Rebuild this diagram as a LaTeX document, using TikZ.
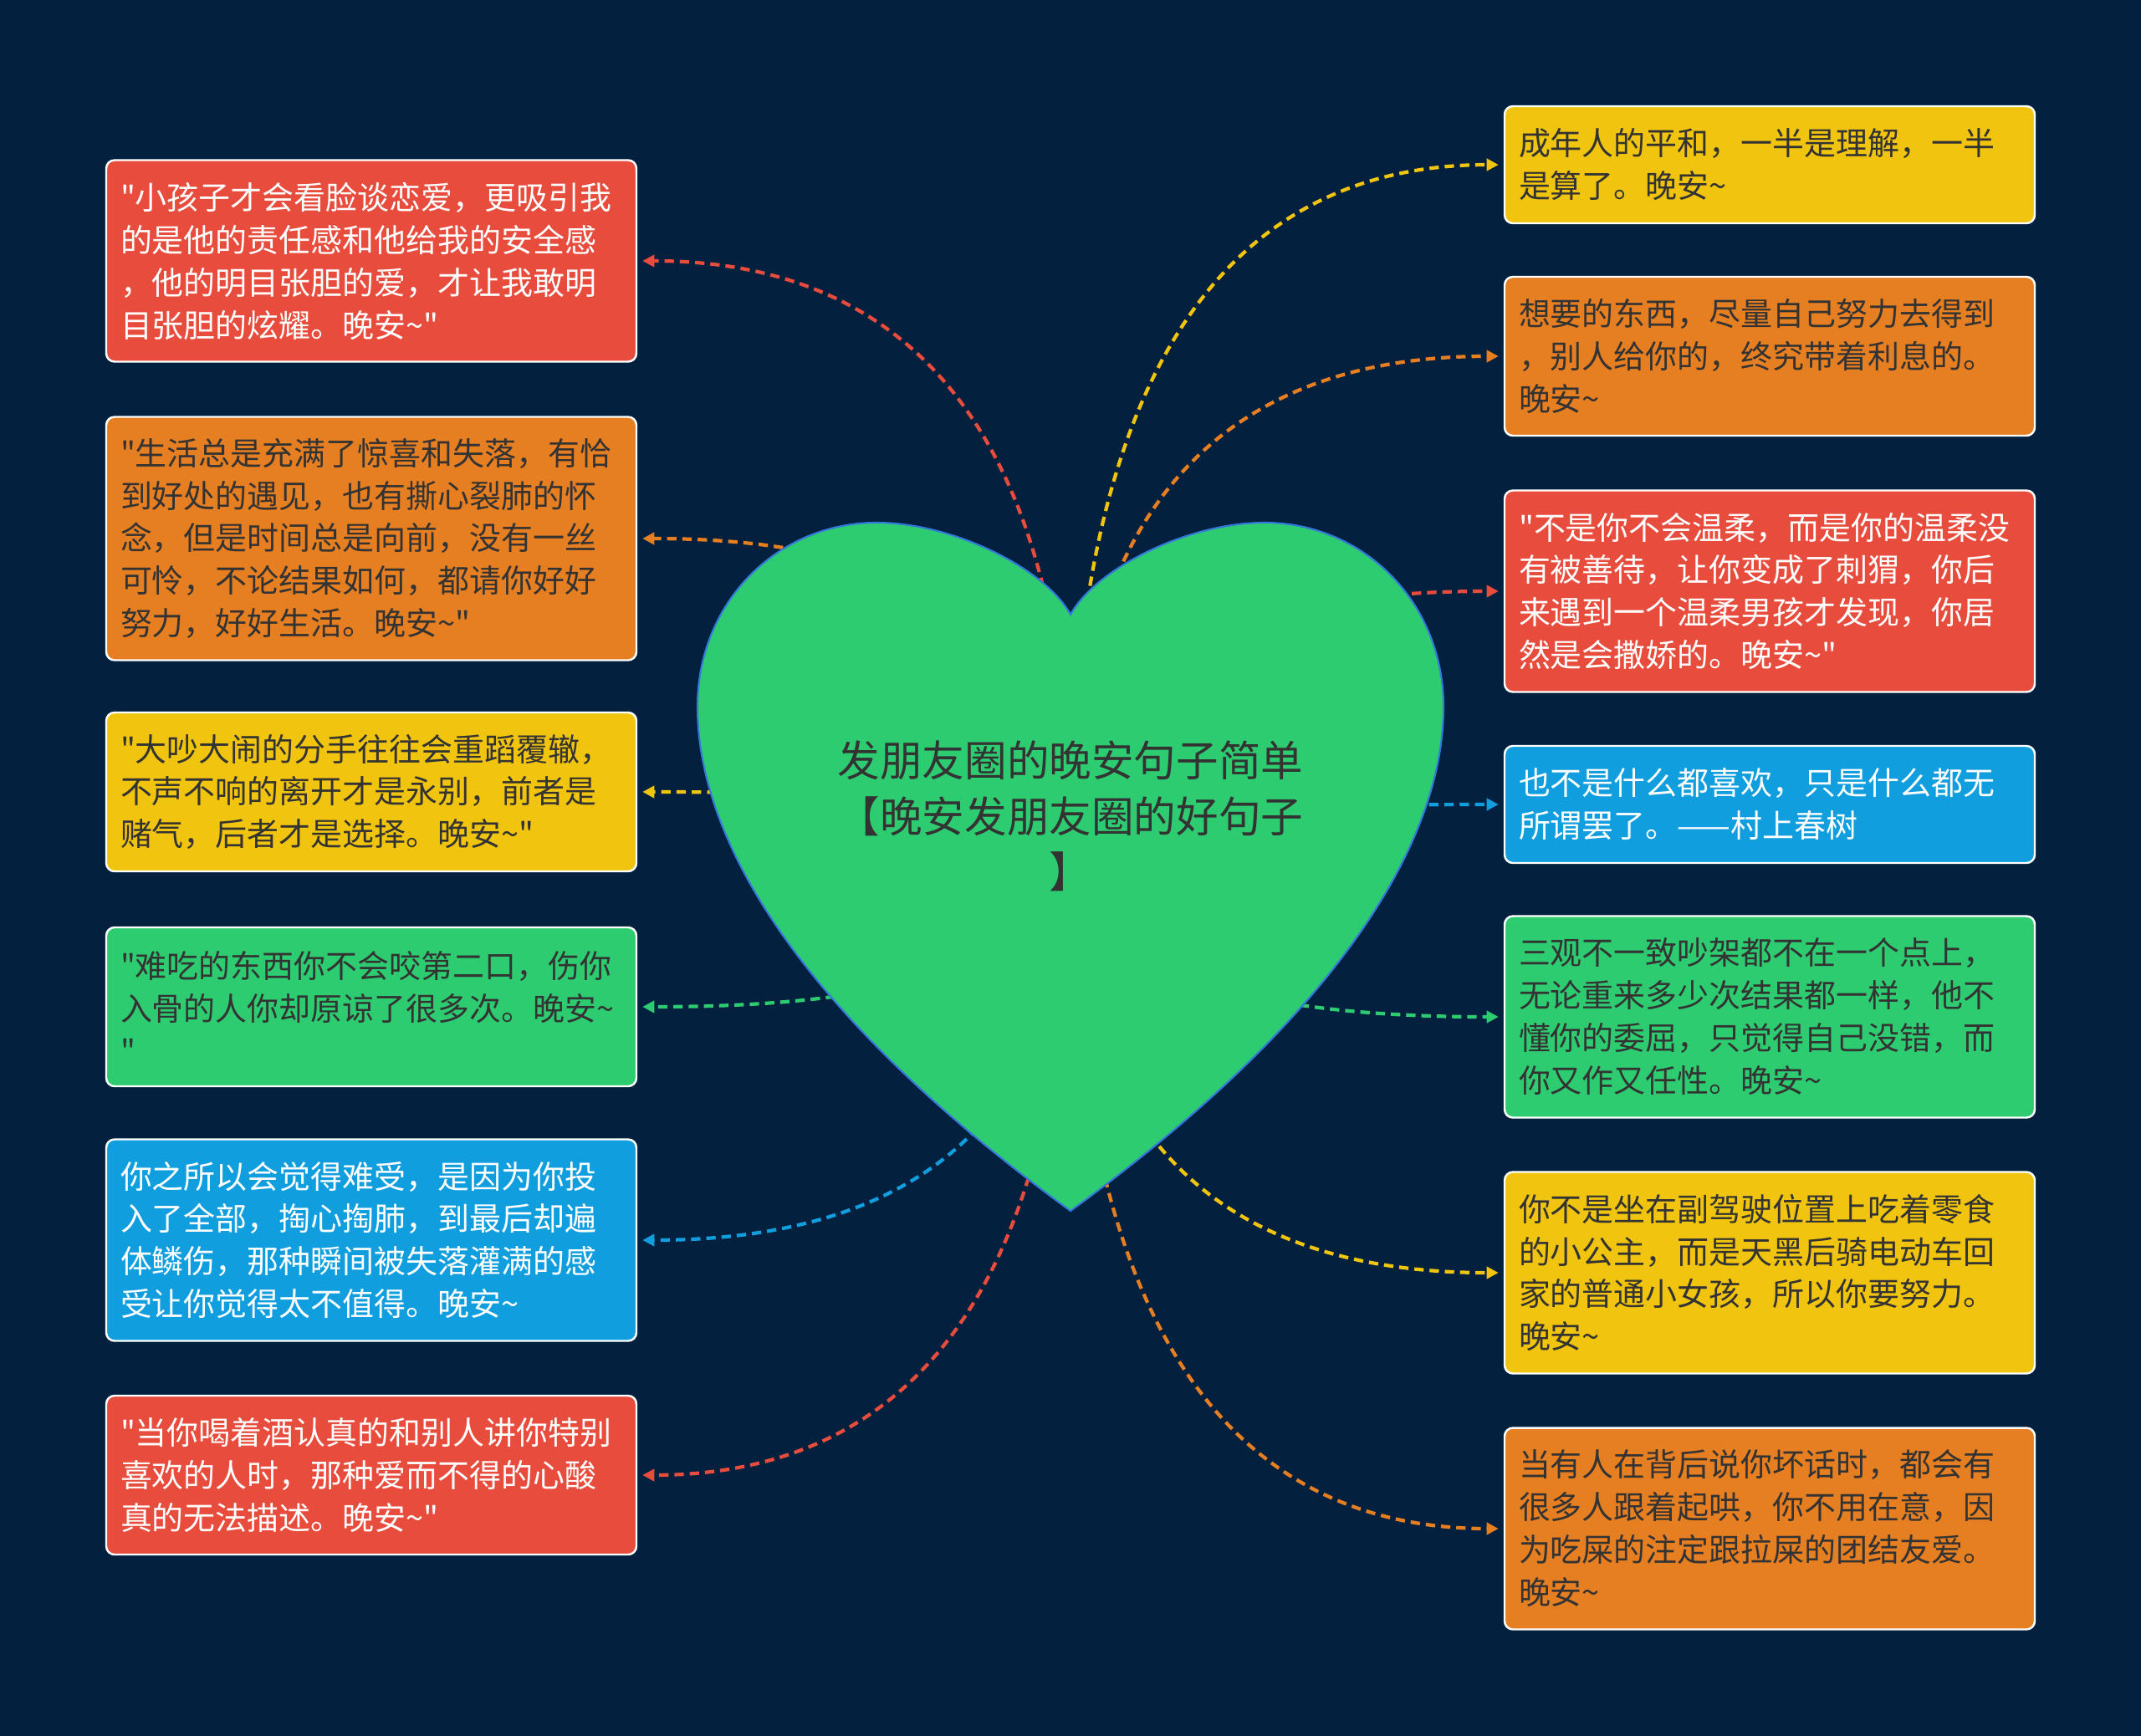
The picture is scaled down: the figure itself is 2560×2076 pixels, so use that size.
\documentclass[tikz,border=0pt]{standalone}
\usepackage{fontspec}
\usepackage{tikz}
\usetikzlibrary{calc,arrows.meta}
\newfontfamily\cjk{Noto Sans CJK SC}
\definecolor{bg}{RGB}{3,33,63}
\definecolor{cred}{RGB}{231,76,60}
\definecolor{corange}{RGB}{230,126,34}
\definecolor{cyellow}{RGB}{241,196,15}
\definecolor{cgreen}{RGB}{46,204,113}
\definecolor{cblue}{RGB}{17,158,223}
\definecolor{ink}{RGB}{51,51,51}
\definecolor{heartline}{RGB}{52,120,220}
\newcommand{\wanan}{晚安\textasciitilde}
\tikzset{
  card/.style={draw=white, line width=0.7pt, rounded corners=1mm, fill=#1,
    text width=60mm, inner xsep=1.7mm, inner ysep=0pt, align=left,
    font=\cjk\fontsize{10.8}{14.5}\selectfont},
  dark/.style={text=ink},
  light/.style={text=white},
  link/.style={draw=#1, line width=1.2pt, dash pattern=on 3.2pt off 2pt,
    -{Triangle[length=4pt,width=4pt]}, shorten >=0.6mm}
}
\begin{document}
\begin{tikzpicture}[x=0.1mm,y=-0.1mm]
  \fill[bg] (0,0) rectangle (2560,2076);
  % left side
  \node[card=cred,light,minimum height=24.1mm] (l1) at (444,312)
    {"小孩子才会看脸谈恋爱，更吸引我\\的是他的责任感和他给我的安全感\\，他的明目张胆的爱，才让我敢明\\目张胆的炫耀。\wanan"};
  \node[card=corange,dark,minimum height=29.1mm] (l2) at (444,644)
    {"生活总是充满了惊喜和失落，有恰\\到好处的遇见，也有撕心裂肺的怀\\念，但是时间总是向前，没有一丝\\可怜，不论结果如何，都请你好好\\努力，好好生活。\wanan"};
  \node[card=cyellow,dark,minimum height=19mm] (l3) at (444,947)
    {"大吵大闹的分手往往会重蹈覆辙，\\不声不响的离开才是永别，前者是\\赌气，后者才是选择。\wanan"};
  \node[card=cgreen,dark,minimum height=19mm] (l4) at (444,1204)
    {"难吃的东西你不会咬第二口，伤你\\入骨的人你却原谅了很多次。\wanan\\"};
  \node[card=cblue,light,minimum height=24.1mm] (l5) at (444,1483)
    {你之所以会觉得难受，是因为你投\\入了全部，掏心掏肺，到最后却遍\\体鳞伤，那种瞬间被失落灌满的感\\受让你觉得太不值得。\wanan};
  \node[card=cred,light,minimum height=19mm] (l6) at (444,1764)
    {"当你喝着酒认真的和别人讲你特别\\喜欢的人时，那种爱而不得的心酸\\真的无法描述。\wanan"};
  % right side
  \node[card=cyellow,dark,minimum height=14mm] (r1) at (2116,197)
    {成年人的平和，一半是理解，一半\\是算了。\wanan};
  \node[card=corange,dark,minimum height=19mm] (r2) at (2116,426)
    {想要的东西，尽量自己努力去得到\\，别人给你的，终究带着利息的。\\\wanan};
  \node[card=cred,light,minimum height=24.1mm] (r3) at (2116,707)
    {"不是你不会温柔，而是你的温柔没\\有被善待，让你变成了刺猬，你后\\来遇到一个温柔男孩才发现，你居\\然是会撒娇的。\wanan"};
  \node[card=cblue,light,minimum height=14mm] (r4) at (2116,962)
    {也不是什么都喜欢，只是什么都无\\所谓罢了。——村上春树};
  \node[card=cgreen,dark,minimum height=24.1mm] (r5) at (2116,1216)
    {三观不一致吵架都不在一个点上，\\无论重来多少次结果都一样，他不\\懂你的委屈，只觉得自己没错，而\\你又作又任性。\wanan};
  \node[card=cyellow,dark,minimum height=24.1mm] (r6) at (2116,1522)
    {你不是坐在副驾驶位置上吃着零食\\的小公主，而是天黑后骑电动车回\\家的普通小女孩，所以你要努力。\\\wanan};
  \node[card=corange,dark,minimum height=24.1mm] (r7) at (2116,1828)
    {当有人在背后说你坏话时，都会有\\很多人跟着起哄，你不用在意，因\\为吃屎的注定跟拉屎的团结友爱。\\\wanan};
  % links from the middle
  \coordinate (hub) at (1280,1010);
  \foreach \bx/\col/\side in {l1/cred/east,l2/corange/east,l3/cyellow/east,
      l4/cgreen/east,l5/cblue/east,l6/cred/east,r1/cyellow/west,r2/corange/west,
      r3/cred/west,r4/cblue/west,r5/cgreen/west,r6/cyellow/west,r7/corange/west}{
    \draw[link=\col] (hub) .. controls ($(hub)!2/3!(hub |- \bx.\side)$)
      and ($(\bx.\side)!2/3!(hub |- \bx.\side)$) .. (\bx.\side);
  }
  % heart
  \draw[fill=cgreen, draw=heartline, line width=0.6pt]
    (1280,735) .. controls (1310,680) and (1420,625) .. (1512,625)
    .. controls (1630,625) and (1726,720) .. (1726,845)
    .. controls (1726,1020) and (1580,1230) .. (1280,1448)
    .. controls (980,1230) and (834,1020) .. (834,845)
    .. controls (834,720) and (930,625) .. (1048,625)
    .. controls (1140,625) and (1250,680) .. (1280,735) -- cycle;
  \node[align=center, text=ink, font=\cjk\fontsize{14.4}{19}\selectfont] (title)
    at (1280,976) {发朋友圈的晚安句子简单\\【晚安发朋友圈的好句子\\】};
\end{tikzpicture}
\end{document}
